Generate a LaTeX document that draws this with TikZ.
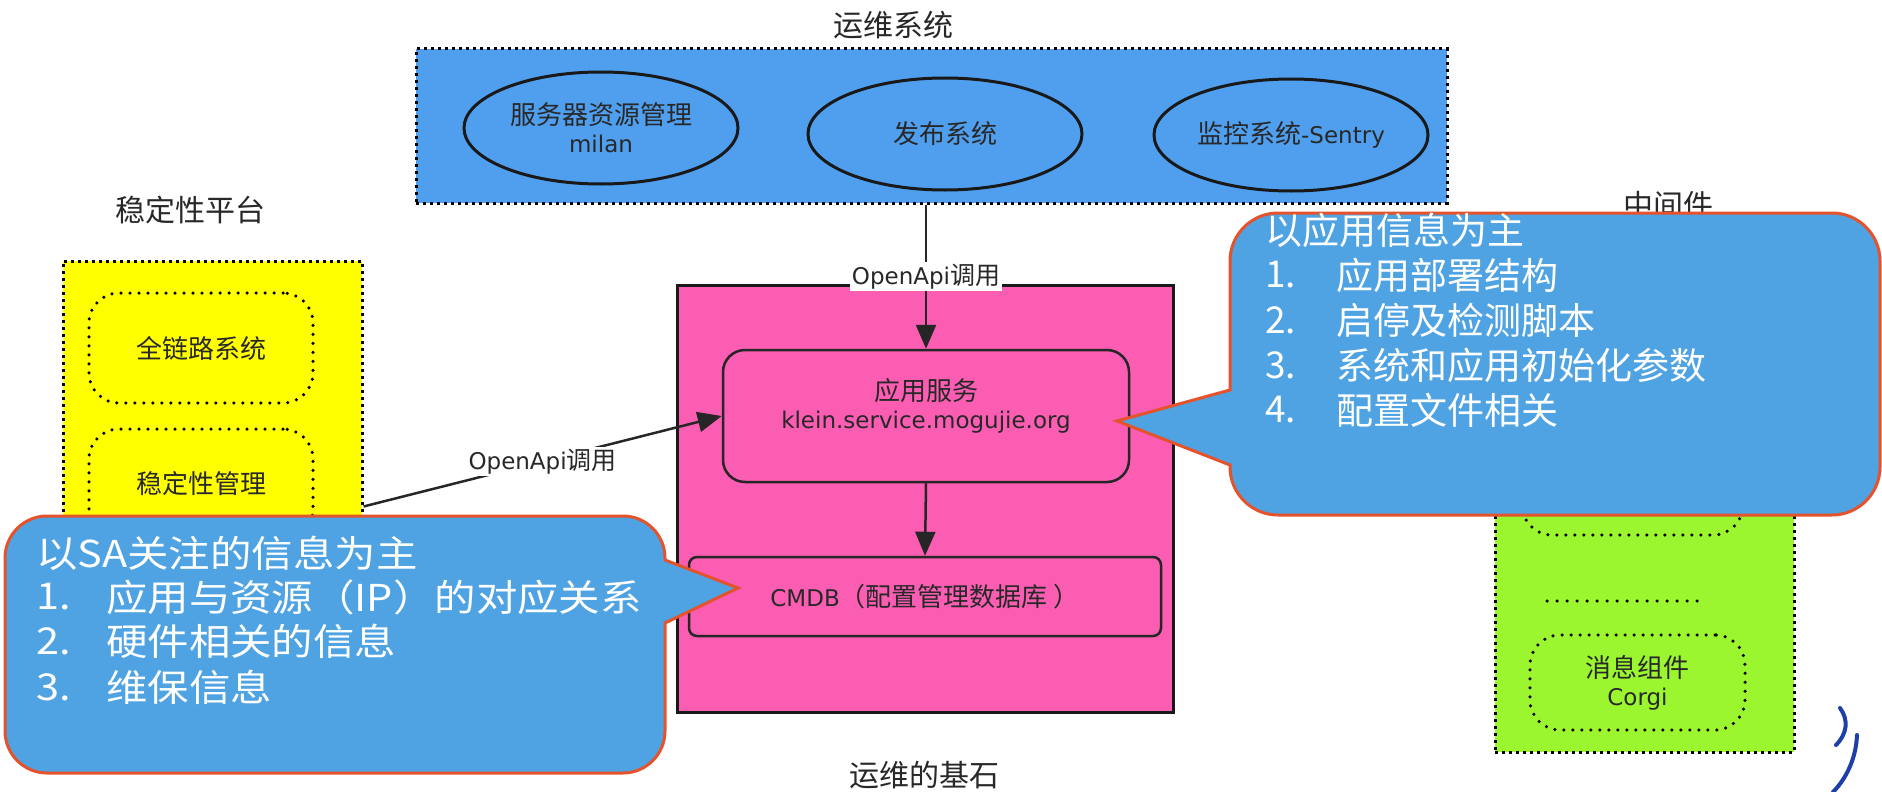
\documentclass[tikz,border=0pt]{standalone}
\usepackage{fontspec}
\setmainfont{Noto Sans CJK SC}
\newfontfamily\latf{DejaVu Sans}
\newfontfamily\widecjk[FakeStretch=1.12]{Noto Sans CJK SC}
\usetikzlibrary{shapes.geometric,arrows.meta}
\definecolor{opsblue}{HTML}{4F9FEE}
\definecolor{calfill}{HTML}{4FA3E2}
\definecolor{calline}{HTML}{E4532B}
\definecolor{basepink}{HTML}{FA5DB2}
\definecolor{stabyellow}{HTML}{FFFF00}
\definecolor{midgreen}{HTML}{9BF52F}
\definecolor{ink}{HTML}{282828}
\definecolor{logoblue}{HTML}{1F3FA8}
\newcommand{\latx}[1]{{\latf\fontsize{23}{28}\selectfont #1}}
\begin{document}
\begin{tikzpicture}[x=1pt,y=-1pt,
  titletxt/.style={font=\fontsize{30}{36}\selectfont, text=ink, inner sep=0pt},
  lbl/.style={font=\fontsize{26}{28}\selectfont, text=ink, align=center, inner sep=0pt},
  dotbox/.style={draw=black, line width=3pt, dash pattern=on 3pt off 4pt},
  dotround/.style={draw=black, line width=3.5pt, line cap=round, dash pattern=on 0pt off 9pt, rounded corners=30pt},
  ell/.style={ellipse, draw=black!90, line width=3pt, minimum width=274pt, minimum height=112pt, inner sep=0pt, lbl},
  solidbox/.style={draw=black!85, line width=2.5pt, fill=basepink},
  arr/.style={draw=black!85, line width=2.5pt, -{Triangle[length=24pt,width=20pt]}},
  edgelbl/.style={fill=white, inner sep=2pt, font=\fontsize{25}{28}\selectfont, text=ink},
  callout/.style={fill=calfill, draw=calline, line width=3pt, line join=miter},
  caltxt/.style={text=white, font=\fontsize{37}{44}\selectfont, anchor=west, inner sep=0pt},
  caltxtw/.style={text=white, font=\widecjk\fontsize{37}{44}\selectfont, anchor=west, inner sep=0pt}]
\useasboundingbox (0,0) rectangle (1882,792);
\fill[white] (0,0) rectangle (1882,792);

% titles
\node[titletxt] (t-ops) at (893,25) {运维系统};
\node[titletxt] (t-stab) at (190,210) {稳定性平台};
\node[titletxt] (t-mid) at (1668,205) {中间件};
\node[titletxt] (t-base) at (924,775) {运维的基石};

% ops system box
\node[dotbox, fill=opsblue, minimum width=1031pt, minimum height=154pt, inner sep=0pt] (ops) at (931.5,126) {};
\node[ell] (e1) at (601,128) {服务器资源管理\\\latx{milan}};
\node[ell] (e2) at (945,134) {发布系统};
\node[ell] (e3) at (1291,135) {监控系统\latx{-Sentry}};

% stability platform
\node[dotbox, fill=stabyellow, minimum width=299pt, minimum height=491pt, inner sep=0pt] (stab) at (212.5,506.5) {};
\node[dotround, lbl, minimum width=224pt, minimum height=110pt] (y1) at (201,348) {全链路系统};
\node[dotround, lbl, minimum width=224pt, minimum height=110pt] (y2) at (201,484) {稳定性管理};

% middleware
\node[dotbox, fill=midgreen, minimum width=299pt, minimum height=491pt, inner sep=0pt] (mid) at (1644.5,506.5) {};
\node[dotround, minimum width=221pt, minimum height=115pt] (g1) at (1632.5,477.5) {};
\coordinate (dl1) at (1547,601);
\coordinate (dl2) at (1700,601);
\draw[line width=3.5pt, line cap=round, dash pattern=on 0pt off 10pt] (dl1) -- (dl2);
\node[dotround, lbl, minimum width=215pt, minimum height=95pt] (corgi) at (1637.5,682.5) {消息组件\\\latx{Corgi}};

% base (pink)
\node[draw=black!90, line width=3pt, fill=basepink, minimum width=496pt, minimum height=427pt, inner sep=0pt] (base) at (925,498.5) {};
\node[solidbox, rounded corners=22pt, minimum width=406pt, minimum height=132pt, inner sep=0pt] (app) at (926,416) {};
\node[lbl] (app-t) at (926,406) {应用服务\\\latx{klein.service.mogujie.org}};
\node[solidbox, rounded corners=8pt, minimum width=472pt, minimum height=79pt, inner sep=0pt, lbl] (cmdb) at (925,596.5) {\latx{CMDB}（配置管理数据库 ）};

% connectors
\draw[arr] (app.north |- ops.south) -- node[edgelbl, pos=0.5] {\latx{OpenApi}调用} (app.north);
\draw[arr] (stab.east) -- node[edgelbl, pos=0.5] {\latx{OpenApi}调用} (app.west);
\draw[arr] (app.south) -- (cmdb.north);

% left callout
\coordinate (ltip) at (738,588);
\draw[callout] (47,516) -- (623,516) .. controls (646.2,516) and (665,534.8) .. (665,558) -- (665,560) -- (ltip) -- (665,623) -- (665,731) .. controls (665,754.2) and (646.2,773) .. (623,773) -- (47,773) .. controls (23.8,773) and (5,754.2) .. (5,731) -- (5,558) .. controls (5,534.8) and (23.8,516) .. (47,516) -- cycle;
\node[caltxtw] (l0) at (36,553) {以SA关注的信息为主};
\node[caltxtw] (l1n) at (36,597) {1.};
\node[caltxtw] (l1) at (106,597) {应用与资源（IP）的对应关系};
\node[caltxtw] (l2n) at (36,641) {2.};
\node[caltxtw] (l2) at (106,641) {硬件相关的信息};
\node[caltxtw] (l3n) at (36,687) {3.};
\node[caltxtw] (l3) at (106,687) {维保信息};

% right callout
\coordinate (rtip) at (1117,421);
\draw[callout] (1278,213) -- (1832,213) .. controls (1858.5,213) and (1880,234.5) .. (1880,261) -- (1880,467) .. controls (1880,493.5) and (1858.5,515) .. (1832,515) -- (1278,515) .. controls (1251.5,515) and (1230,493.5) .. (1230,467) -- (1230,465) -- (rtip) -- (1230,390) -- (1230,261) .. controls (1230,234.5) and (1251.5,213) .. (1278,213) -- cycle;
\node[caltxt] (r0) at (1265,230) {以应用信息为主};
\node[caltxt] (r1n) at (1265,275) {1.};
\node[caltxt] (r1) at (1336,275) {应用部署结构};
\node[caltxt] (r2n) at (1265,320) {2.};
\node[caltxt] (r2) at (1336,320) {启停及检测脚本};
\node[caltxt] (r3n) at (1265,365) {3.};
\node[caltxt] (r3) at (1336,365) {系统和应用初始化参数};
\node[caltxt] (r4n) at (1265,410) {4.};
\node[caltxt] (r4) at (1336,410) {配置文件相关};

% logo fragment
\draw[logoblue, line width=4pt, line cap=round] (1840,708) .. controls (1849,720) and (1847,734) .. (1836,745);
\draw[logoblue, line width=4pt, line cap=round] (1857,735) .. controls (1856,760) and (1845,780) .. (1833,792);
\end{tikzpicture}
\end{document}
